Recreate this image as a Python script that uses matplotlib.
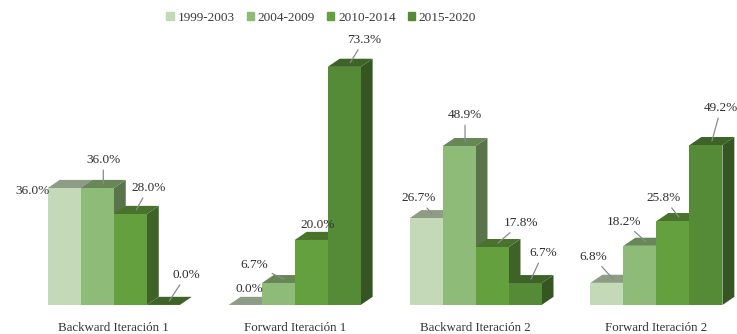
import numpy as np
import matplotlib.pyplot as plt
from matplotlib.patches import Polygon, Rectangle

plt.rcParams['font.family'] = ['Liberation Serif', 'DejaVu Serif']

groups = ['Backward Iteración 1', 'Forward Iteración 1',
          'Backward Iteración 2', 'Forward Iteración 2']
periods = ['1999-2003', '2004-2009', '2010-2014', '2015-2020']
values = np.array([
    [36.0, 36.0, 28.0, 0.0],
    [0.0, 6.7, 20.0, 73.3],
    [26.7, 48.9, 17.8, 6.7],
    [6.8, 18.2, 25.8, 49.2],
])

colors = ['#c4d9b7', '#8fbb78', '#65a03f', '#558a37']

# label placement (pixel offsets from top of each bar) and whether to draw a leader
offsets = [
    [(-38, -7, False), (0, 24, True), (12, 22, True), (17, 26, True)],
    [(-2, 12, False), (-30, 14, True), (0, 11, False), (14, 23, True)],
    [(-13, 16, True), (0, 27, True), (23, 20, True), (12, 26, True)],
    [(-20, 22, True), (-22, 20, True), (-15, 19, True), (9, 33, True)],
]


def shade(c, f):
    r, g, b = plt.matplotlib.colors.to_rgb(c)
    return (r * f, g * f, b * f)


group_step = 5.48
dx, dy = 0.36, 2.5

fig = plt.figure(figsize=(7.37, 3.34), dpi=100)
ax = fig.add_axes([0, 0.087, 1, 0.778])
ax.set_xlim(-1.45, 20.88)
ax.set_ylim(0, 80)

z = 2
for g in range(len(groups)):
    for i in range(len(periods)):
        v = values[g, i]
        x0 = g * group_step + i
        x1 = x0 + 1
        side = Polygon([(x1, 0), (x1 + dx, dy), (x1 + dx, v + dy), (x1, v)],
                       closed=True, facecolor=shade(colors[i], 0.62),
                       edgecolor='none', zorder=z)
        top = Polygon([(x0, v), (x0 + dx, v + dy), (x1 + dx, v + dy), (x1, v)],
                      closed=True, facecolor=shade(colors[i], 0.72),
                      edgecolor='none', zorder=z)
        ax.add_patch(side)
        ax.add_patch(top)
        ax.bar(x0, v, width=1, align='edge', color=colors[i], zorder=z + 1)
        z += 2

        ox, oy, line = offsets[g][i]
        ax.annotate(f'{v:.1f}%', xy=(x0 + 0.5 + dx / 2, v + dy / 2),
                    xytext=(ox, oy), textcoords='offset pixels',
                    ha='center', va='center', fontsize=9.5, color='#2e2e2e',
                    zorder=100,
                    arrowprops=dict(arrowstyle='-', color='#8a8a8a', lw=0.9,
                                    shrinkA=1, shrinkB=0) if line else None)

ax.set_xticks([g * group_step + 2 for g in range(len(groups))])
ax.set_xticklabels(groups, fontsize=9.3, color='#333333')
ax.tick_params(axis='x', length=0, pad=12)
ax.set_yticks([])
for s in ax.spines.values():
    s.set_visible(False)

handles = [Rectangle((0, 0), 1, 1, color=c) for c in colors]
fig.legend(handles, periods, loc='center', bbox_to_anchor=(0.436, 0.946),
           ncol=4, frameon=False, fontsize=9.5, handlelength=0.55,
           handleheight=0.55, handletextpad=0.3, columnspacing=0.9,
           labelcolor='#3a3a3a')

fig.savefig('out.png', dpi=100)
